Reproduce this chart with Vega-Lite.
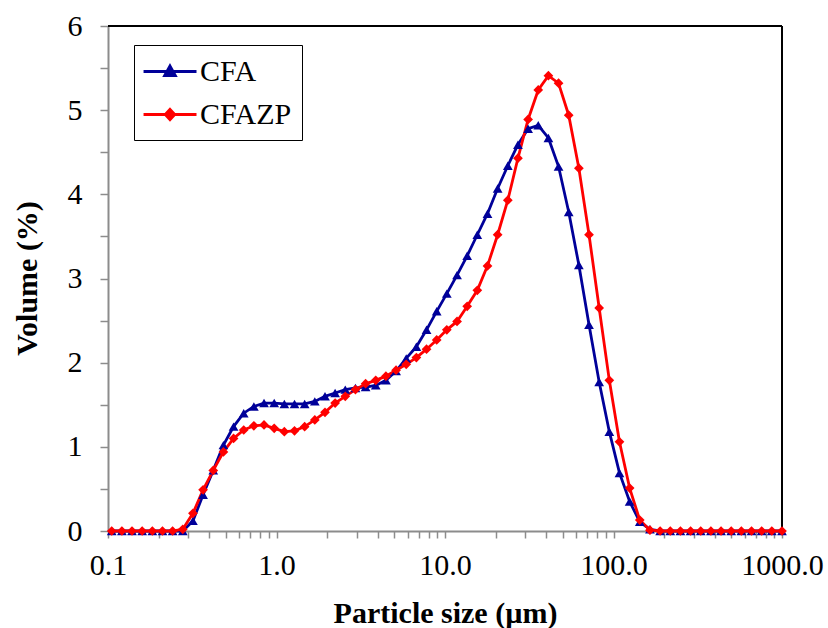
{
  "$schema": "https://vega.github.io/schema/vega-lite/v6.json",
  "width": 674,
  "height": 505,
  "autosize": "none",
  "padding": {"left": 108, "top": 26, "right": 46, "bottom": 97},
  "background": "white",
  "config": {
    "view": {"stroke": null},
    "font": "Liberation Serif, Times New Roman, serif",
    "axis": {
      "labelFont": "Liberation Serif, Times New Roman, serif",
      "titleFont": "Liberation Serif, Times New Roman, serif",
      "labelFontSize": 30,
      "titleFontSize": 30,
      "titleFontWeight": "bold",
      "labelColor": "black",
      "titleColor": "black",
      "domainColor": "#8c8c8c",
      "tickColor": "#8c8c8c",
      "domainWidth": 2,
      "tickWidth": 1.5,
      "grid": false,
      "labelOverlap": false,
      "labelFlush": false
    },
    "legend": {
      "labelFont": "Liberation Serif, Times New Roman, serif",
      "symbolSize": 900,
      "symbolStrokeWidth": 3,
      "symbolOpacity": 1,
      "labelFontSize": 30,
      "labelColor": "black",
      "labelOffset": 23,
      "rowPadding": 11,
      "labelLimit": 300,
      "padding": 10
    }
  },
  "data": {
    "values": [
      {"s":"CFA","x":0.1052,"v":0},{"s":"CFA","x":0.1209,"v":0},{"s":"CFA","x":0.1388,"v":0},{"s":"CFA","x":0.1595,"v":0},{"s":"CFA","x":0.1833,"v":0},{"s":"CFA","x":0.2105,"v":0},{"s":"CFA","x":0.2418,"v":0},{"s":"CFA","x":0.2778,"v":0},
      {"s":"CFA","x":0.3192,"v":0.12},{"s":"CFA","x":0.3667,"v":0.43},{"s":"CFA","x":0.4213,"v":0.72},{"s":"CFA","x":0.4842,"v":1.02},{"s":"CFA","x":0.5561,"v":1.24},{"s":"CFA","x":0.6389,"v":1.40},{"s":"CFA","x":0.734,"v":1.48},{"s":"CFA","x":0.8433,"v":1.52},{"s":"CFA","x":0.969,"v":1.52},{"s":"CFA","x":1.113,"v":1.51},{"s":"CFA","x":1.279,"v":1.51},{"s":"CFA","x":1.469,"v":1.51},{"s":"CFA","x":1.688,"v":1.54},{"s":"CFA","x":1.94,"v":1.60},{"s":"CFA","x":2.228,"v":1.64},{"s":"CFA","x":2.56,"v":1.68},{"s":"CFA","x":2.941,"v":1.70},{"s":"CFA","x":3.379,"v":1.71},{"s":"CFA","x":3.882,"v":1.73},{"s":"CFA","x":4.46,"v":1.79},{"s":"CFA","x":5.124,"v":1.90},{"s":"CFA","x":5.887,"v":2.05},{"s":"CFA","x":6.764,"v":2.19},{"s":"CFA","x":7.771,"v":2.39},{"s":"CFA","x":8.927,"v":2.61},{"s":"CFA","x":10.25,"v":2.82},{"s":"CFA","x":11.79,"v":3.04},{"s":"CFA","x":13.54,"v":3.27},{"s":"CFA","x":15.55,"v":3.52},{"s":"CFA","x":17.87,"v":3.77},{"s":"CFA","x":20.53,"v":4.07},{"s":"CFA","x":23.59,"v":4.34},{"s":"CFA","x":27.1,"v":4.59},{"s":"CFA","x":31.13,"v":4.78},{"s":"CFA","x":35.76,"v":4.82},{"s":"CFA","x":41.08,"v":4.67},{"s":"CFA","x":47.2,"v":4.33},{"s":"CFA","x":54.23,"v":3.79},{"s":"CFA","x":62.3,"v":3.16},{"s":"CFA","x":71.57,"v":2.45},{"s":"CFA","x":82.22,"v":1.77},{"s":"CFA","x":94.46,"v":1.18},{"s":"CFA","x":108.5,"v":0.69},{"s":"CFA","x":124.7,"v":0.35},{"s":"CFA","x":143.2,"v":0.11},{"s":"CFA","x":164.6,"v":0.02},
      {"s":"CFA","x":189.1,"v":0},{"s":"CFA","x":217.3,"v":0},{"s":"CFA","x":249.6,"v":0},{"s":"CFA","x":286.7,"v":0},{"s":"CFA","x":329.4,"v":0},{"s":"CFA","x":378.5,"v":0},{"s":"CFA","x":434.8,"v":0},{"s":"CFA","x":499.5,"v":0},{"s":"CFA","x":573.9,"v":0},{"s":"CFA","x":659.3,"v":0},{"s":"CFA","x":757.4,"v":0},{"s":"CFA","x":870.2,"v":0},{"s":"CFA","x":1000,"v":0},
      {"s":"CFAZP","x":0.1052,"v":0},{"s":"CFAZP","x":0.1209,"v":0},{"s":"CFAZP","x":0.1388,"v":0},{"s":"CFAZP","x":0.1595,"v":0},{"s":"CFAZP","x":0.1833,"v":0},{"s":"CFAZP","x":0.2105,"v":0},{"s":"CFAZP","x":0.2418,"v":0},{"s":"CFAZP","x":0.2778,"v":0.02},
      {"s":"CFAZP","x":0.3192,"v":0.21},{"s":"CFAZP","x":0.3667,"v":0.49},{"s":"CFAZP","x":0.4213,"v":0.72},{"s":"CFAZP","x":0.4842,"v":0.94},{"s":"CFAZP","x":0.5561,"v":1.10},{"s":"CFAZP","x":0.6389,"v":1.20},{"s":"CFAZP","x":0.734,"v":1.25},{"s":"CFAZP","x":0.8433,"v":1.26},{"s":"CFAZP","x":0.969,"v":1.22},{"s":"CFAZP","x":1.113,"v":1.18},{"s":"CFAZP","x":1.279,"v":1.19},{"s":"CFAZP","x":1.469,"v":1.24},{"s":"CFAZP","x":1.688,"v":1.32},{"s":"CFAZP","x":1.94,"v":1.41},{"s":"CFAZP","x":2.228,"v":1.52},{"s":"CFAZP","x":2.56,"v":1.60},{"s":"CFAZP","x":2.941,"v":1.68},{"s":"CFAZP","x":3.379,"v":1.75},{"s":"CFAZP","x":3.882,"v":1.79},{"s":"CFAZP","x":4.46,"v":1.84},{"s":"CFAZP","x":5.124,"v":1.91},{"s":"CFAZP","x":5.887,"v":1.98},{"s":"CFAZP","x":6.764,"v":2.06},{"s":"CFAZP","x":7.771,"v":2.16},{"s":"CFAZP","x":8.927,"v":2.27},{"s":"CFAZP","x":10.25,"v":2.39},{"s":"CFAZP","x":11.79,"v":2.49},{"s":"CFAZP","x":13.54,"v":2.67},{"s":"CFAZP","x":15.55,"v":2.86},{"s":"CFAZP","x":17.87,"v":3.15},{"s":"CFAZP","x":20.53,"v":3.52},{"s":"CFAZP","x":23.59,"v":3.93},{"s":"CFAZP","x":27.1,"v":4.43},{"s":"CFAZP","x":31.13,"v":4.89},{"s":"CFAZP","x":35.76,"v":5.24},{"s":"CFAZP","x":41.08,"v":5.41},{"s":"CFAZP","x":47.2,"v":5.32},{"s":"CFAZP","x":54.23,"v":4.94},{"s":"CFAZP","x":62.3,"v":4.31},{"s":"CFAZP","x":71.57,"v":3.52},{"s":"CFAZP","x":82.22,"v":2.65},{"s":"CFAZP","x":94.46,"v":1.79},{"s":"CFAZP","x":108.5,"v":1.06},{"s":"CFAZP","x":124.7,"v":0.51},{"s":"CFAZP","x":143.2,"v":0.13},{"s":"CFAZP","x":164.6,"v":0.01},
      {"s":"CFAZP","x":189.1,"v":0},{"s":"CFAZP","x":217.3,"v":0},{"s":"CFAZP","x":249.6,"v":0},{"s":"CFAZP","x":286.7,"v":0},{"s":"CFAZP","x":329.4,"v":0},{"s":"CFAZP","x":378.5,"v":0},{"s":"CFAZP","x":434.8,"v":0},{"s":"CFAZP","x":499.5,"v":0},{"s":"CFAZP","x":573.9,"v":0},{"s":"CFAZP","x":659.3,"v":0},{"s":"CFAZP","x":757.4,"v":0},{"s":"CFAZP","x":870.2,"v":0},{"s":"CFAZP","x":1000,"v":0}
    ]
  },
  "encoding": {
    "x": {
      "field": "x", "type": "quantitative",
      "scale": {"type": "log", "domain": [0.1, 1000], "nice": false},
      "axis": {
        "title": "Particle size (µm)",
        "values": [0.1,0.2,0.3,0.4,0.5,0.6,0.7,0.8,0.9,1,2,3,4,5,6,7,8,9,10,20,30,40,50,60,70,80,90,100,200,300,400,500,600,700,800,900,1000],
        "format": ".1f",
        "labelExpr": "indexof([0.1,1,10,100,1000], datum.value) >= 0 ? datum.label : ''",
        "tickSize": 7,
        "labelPadding": 12,
        "titleBaseline": "alphabetic",
        "titleY": 91,
        "titleX": 337
      }
    },
    "y": {
      "field": "v", "type": "quantitative",
      "scale": {"domain": [0, 6], "nice": false},
      "axis": {
        "title": "Volume (%)",
        "values": [0,0.5,1,1.5,2,2.5,3,3.5,4,4.5,5,5.5,6],
        "labelExpr": "datum.value % 1 === 0 ? format(datum.value, 'd') : ''",
        "tickSize": 8,
        "labelPadding": 18,
        "titleAngle": -90,
        "titleBaseline": "alphabetic",
        "titleAlign": "center",
        "titleX": -72,
        "titleY": 252
      }
    }
  },
  "layer": [
    {
      "mark": {"type": "rule", "color": "black", "strokeWidth": 1.5},
      "encoding": {"y": {"datum": 6}, "x": {"datum": 0.1}, "x2": {"datum": 1000}}
    },
    {
      "mark": {"type": "rule", "color": "black", "strokeWidth": 1.5},
      "encoding": {"x": {"datum": 1000}, "y": {"datum": 0}, "y2": {"datum": 6}}
    },
    {
      "mark": {"type": "point", "opacity": 0, "strokeWidth": 3},
      "encoding": {
        "shape": {
          "field": "s", "type": "nominal",
          "scale": {"domain": ["CFA", "CFAZP"], "range": ["M-1.13,0L2.4,0M0.633,-0.36L0.98,0.27L0.286,0.27Z", "M-1.13,0L2.4,0M0.633,-0.33L0.94,0L0.633,0.33L0.326,0Z"]},
          "legend": {"title": null, "orient": "none", "legendX": 26, "legendY": 19, "fillColor": "white", "strokeColor": "black", "symbolOpacity": 1}
        },
        "fill": {
          "field": "s", "type": "nominal",
          "scale": {"domain": ["CFA", "CFAZP"], "range": ["#000099", "#ff0000"]},
          "legend": {"title": null, "orient": "none", "legendX": 26, "legendY": 19, "fillColor": "white", "strokeColor": "black", "symbolOpacity": 1}
        },
        "stroke": {
          "field": "s", "type": "nominal",
          "scale": {"domain": ["CFA", "CFAZP"], "range": ["#000099", "#ff0000"]},
          "legend": {"title": null, "orient": "none", "legendX": 26, "legendY": 19, "fillColor": "white", "strokeColor": "black", "symbolOpacity": 1}
        }
      }
    },
    {
      "mark": {"type": "line", "strokeWidth": 2.8},
      "encoding": {
        "color": {
          "field": "s", "type": "nominal",
          "scale": {"domain": ["CFA", "CFAZP"], "range": ["#000099", "#ff0000"]},
          "legend": null
        }
      }
    },
    {
      "transform": [{"filter": "datum.s === 'CFA'"}],
      "mark": {"type": "point", "filled": true, "opacity": 1, "shape": "triangle-up", "size": 95},
      "encoding": {"color": {"field": "s", "type": "nominal", "legend": null}}
    },
    {
      "transform": [{"filter": "datum.s === 'CFAZP'"}],
      "mark": {"type": "point", "filled": true, "opacity": 1, "shape": "diamond", "size": 95},
      "encoding": {"color": {"field": "s", "type": "nominal", "legend": null}}
    }
  ]
}
